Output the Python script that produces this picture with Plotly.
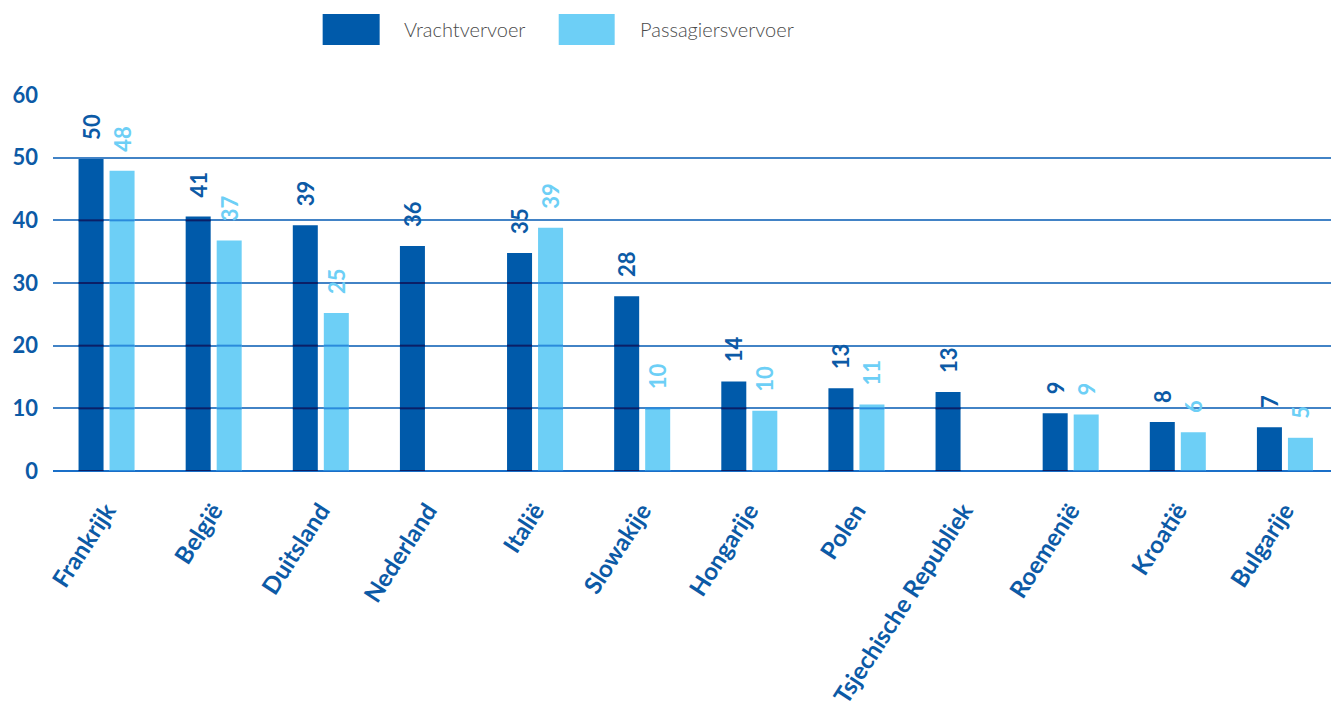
import plotly.graph_objects as go

# Data
landen = ["Frankrijk", "België", "Duitsland", "Nederland", "Italië", "Slowakije",
          "Hongarije", "Polen", "Tsjechische Republiek", "Roemenië", "Kroatië", "Bulgarije"]
vrachtvervoer = [49.8, 40.6, 39.2, 35.9, 34.8, 27.9, 14.3, 13.2, 12.6, 9.2, 7.8, 7.0]
passagiersvervoer = [47.9, 36.8, 25.2, None, 38.8, 10.0, 9.6, 10.6, None, 9.0, 6.2, 5.3]
y_ticks = [0, 10, 20, 30, 40, 50, 60]

# Styling
DONKER = "#005aaa"
LICHT = "#6dcff6"
TEKST = "#0c5aa6"
GRID = "#4283c6"
FONT = "Lato, 'Open Sans', sans-serif"
BAR_W = 0.2334
OFF_DONKER = -0.2615
OFF_LICHT = 0.028
STREEP = 0.32  # gridline thickness in data units


def streep_traces(waarden, offset, kleur):
    """Darker stripes where the gridlines cross a bar."""
    xs, bases, hoogtes = [], [], []
    for land, v in zip(landen, waarden):
        if v is None:
            continue
        for t in y_ticks:
            if t <= v:
                b = max(t - STREEP / 2, 0)
                h = min(t + STREEP / 2, v + STREEP / 2) - b
                xs.append(land)
                bases.append(b)
                hoogtes.append(h)
    return go.Bar(x=xs, y=hoogtes, base=bases, width=BAR_W, offset=offset,
                  marker=dict(color=kleur, line=dict(width=0)),
                  showlegend=False, hoverinfo="skip", cliponaxis=True)


pad = "\u00a0\u00a0\u00a0"

fig = go.Figure()
fig.add_trace(go.Bar(
    x=landen, y=vrachtvervoer, name="Vrachtvervoer",
    width=BAR_W, offset=OFF_DONKER,
    marker=dict(color=DONKER, line=dict(width=0)),
    texttemplate=pad + "%{y:.0f}", textposition="outside", textangle=-90,
    constraintext="none", cliponaxis=False,
    outsidetextfont=dict(family=FONT, size=22, color=TEKST, weight="bold"),
))
fig.add_trace(go.Bar(
    x=landen, y=passagiersvervoer, name="Passagiersvervoer",
    width=BAR_W, offset=OFF_LICHT,
    marker=dict(color=LICHT, line=dict(width=0)),
    texttemplate=pad + "%{y:.0f}", textposition="outside", textangle=-90,
    constraintext="none", cliponaxis=False,
    outsidetextfont=dict(family=FONT, size=22, color=LICHT, weight="bold"),
))
fig.add_trace(streep_traces(vrachtvervoer, OFF_DONKER, "#0b1f66"))
fig.add_trace(streep_traces(passagiersvervoer, OFF_LICHT, "#2a8bdc"))

# Legend drawn as swatches with labels above the plot
legenda = [("Vrachtvervoer", DONKER, 0.211, 0.2556, 0.2728),
           ("Passagiersvervoer", LICHT, 0.3957, 0.4395, 0.4575)]
for naam, kleur, x0, x1, xt in legenda:
    fig.add_shape(type="rect", xref="paper", yref="paper",
                  x0=x0, x1=x1, y0=1.1332, y1=1.2157,
                  fillcolor=kleur, line=dict(width=0))
    fig.add_annotation(text=naam, xref="paper", yref="paper", x=xt, y=1.1745,
                       xanchor="left", yanchor="middle", showarrow=False,
                       font=dict(family=FONT, size=20, color="#4a4a4a", weight=300))

fig.update_layout(
    width=1331, height=711,
    margin=dict(l=53, r=0, t=95, b=240),
    paper_bgcolor="white", plot_bgcolor="white",
    barmode="overlay", showlegend=False,
    font=dict(family=FONT),
)
fig.update_xaxes(
    type="category", range=[-0.5, 11.43],
    tickangle=-57, ticks="", showgrid=False, showline=False,
    tickfont=dict(family=FONT, size=24, color=TEKST, weight="bold"),
    ticklabelstandoff=20,
)
fig.update_yaxes(
    range=[0, 60], tickvals=y_ticks, showgrid=True, gridcolor=GRID, gridwidth=2,
    zeroline=True, zerolinecolor="#1a6fc8", zerolinewidth=2, showline=False,
    tickfont=dict(family=FONT, size=22, color=TEKST, weight="bold"),
    ticklabelstandoff=14,
)

fig.write_html("out.html")
